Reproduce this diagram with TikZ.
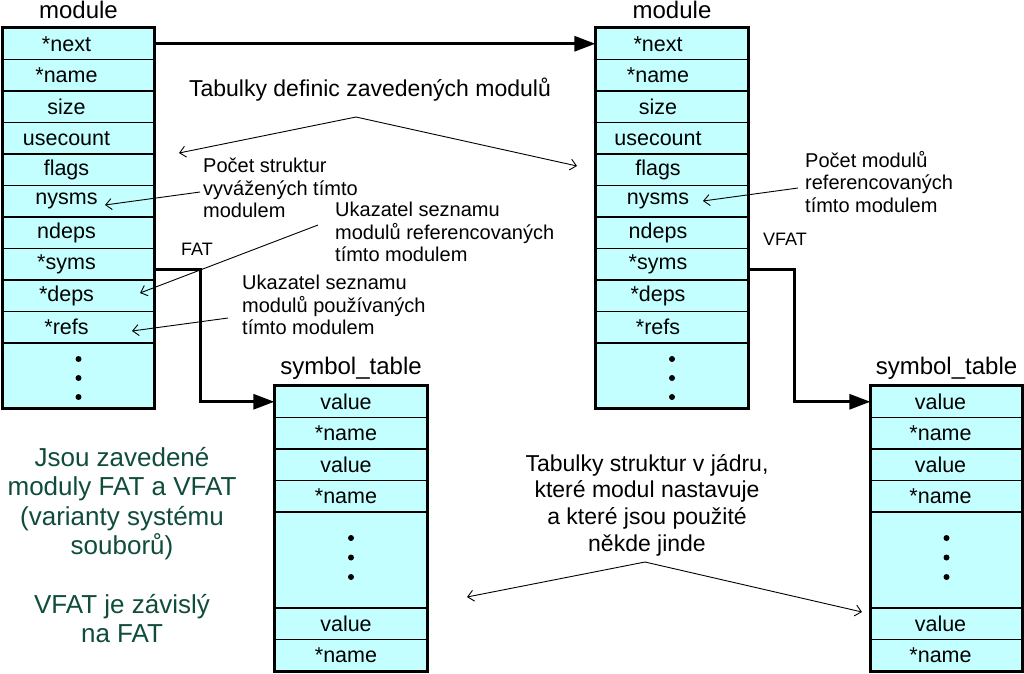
\documentclass[tikz,border=0pt]{standalone}
\usepackage{fontspec}
\setmainfont{Liberation Sans}
\usetikzlibrary{arrows.meta}
\definecolor{cellfill}{RGB}{195,255,255}
\definecolor{greentext}{RGB}{16,76,60}
\begin{document}
\begin{tikzpicture}[x=1pt,y=-1pt,
  cell/.style={draw=black, fill=cellfill, line width=1.3pt, inner sep=0pt, minimum height=31.5pt},
  celltext/.style={font=\fontsize{21.5}{24}\selectfont, inner sep=0pt},
  title/.style={font=\fontsize{24}{26}\selectfont, inner sep=0pt},
  note/.style={font=\fontsize{20}{22.5}\selectfont, align=left, inner sep=0pt},
  tag/.style={font=\fontsize{18}{20}\selectfont, inner sep=0pt},
  border/.style={draw=black, line width=3pt},
  thickarrow/.style={line width=3pt, -{Triangle[length=21pt,width=15pt]}},
  thinarrow/.style={line width=0.9pt, -{Straight Barb[length=6pt,width=11pt]}},
  dot/.style={fill=black}
]
\useasboundingbox (0,0) rectangle (1024,673);

% ---------- module A ----------
\node[title] (modA) at (78.5,10) {module};
\foreach [count=\i] \t in {*next,*name,size,usecount,flags,nysms,ndeps,*syms,*deps,*refs}
  \node[cell, minimum width=151pt, label={[celltext, xshift=-12pt]center:\t}] (mA-\i) at (78.5,{28+31.5*(\i-0.5)}) {};
\node[cell, minimum width=151pt, minimum height=65pt] (mA-11) at (78.5,375.5) {};
\foreach \d in {-19,0,19} \fill[dot] (78.5,{378+\d}) circle (3pt);
\draw[border] (mA-1.north west) rectangle (mA-11.south east);

% ---------- module B ----------
\node[title] (modB) at (672,10) {module};
\foreach [count=\i] \t in {*next,*name,size,usecount,flags,nysms,ndeps,*syms,*deps,*refs}
  \node[cell, minimum width=152pt, label={[celltext, xshift=-14pt]center:\t}] (mB-\i) at (672,{28+31.5*(\i-0.5)}) {};
\node[cell, minimum width=152pt, minimum height=65pt] (mB-11) at (672,375.5) {};
\foreach \d in {-19,0,19} \fill[dot] (672,{378+\d}) circle (3pt);
\draw[border] (mB-1.north west) rectangle (mB-11.south east);

% ---------- symbol tables ----------
\node[title] (symA) at (351,368) {symbol\_table};
\node[title] (symB) at (946.5,368) {symbol\_table};
\foreach \tab/\cx/\w/\off in {sA/351/152/-5, sB/946.5/151/-6} {
  \foreach [count=\i] \t in {value,*name,value,*name}
    \node[cell, minimum width=\w pt, label={[celltext, xshift=\off pt]center:\t}] (\tab-\i) at (\cx,{386+31.5*(\i-0.5)}) {};
  \node[cell, minimum width=\w pt, minimum height=96pt] (\tab-5) at (\cx,560) {};
  \node[cell, minimum width=\w pt, label={[celltext, xshift=\off pt]center:value}] (\tab-6) at (\cx,623.75) {};
  \node[cell, minimum width=\w pt, label={[celltext, xshift=\off pt]center:*name}] (\tab-7) at (\cx,655.25) {};
  \foreach \d in {-19.5,0,19.5} \fill[dot] (\cx,{557.5+\d}) circle (3pt);
  \draw[border] (\tab-1.north west) rectangle (\tab-7.south east);
}

% ---------- thick connectors ----------
\draw[thickarrow] (mA-1.east) -- (mB-1.west);
\draw[thickarrow] ([yshift=-5pt]mA-8.east) -- ++(46,0) |- (sA-1.west);
\draw[thickarrow] ([yshift=-5pt]mB-8.east) -- ++(46,0) |- (sB-1.west);
\node[tag] (fat) at (197,249) {FAT};
\node[tag] (vfat) at (785,239) {VFAT};

% ---------- annotations ----------
\node[title, font=\fontsize{23}{26}\selectfont] (defs) at (370,90) {Tabulky definic zavedených modulů};
\coordinate (apexA) at (356,117);
\coordinate (defL) at (179,153);
\coordinate (defR) at (577,166);
\draw[thinarrow] (apexA) -- (defL);
\draw[thinarrow] (apexA) -- (defR);

\node[note, anchor=west] (pocetA) at (203,188) {Počet struktur\\vyvážených tímto\\modulem};
\coordinate (pA) at (105,205);
\draw[thinarrow] ([shift={(-3pt,-4pt)}]pocetA.west) -- (pA);

\node[note, anchor=west] (ukzA) at (335,232) {Ukazatel seznamu\\modulů referencovaných\\tímto modulem};
\coordinate (uA) at (140,293);
\draw[thinarrow] ([shift={(-17pt,7pt)}]ukzA.west) -- (uA);

\node[note, anchor=west] (ukzB) at (242,305) {Ukazatel seznamu\\modulů používaných\\tímto modulem};
\coordinate (uB) at (132,331);
\draw[thinarrow] ([shift={(-14pt,-13pt)}]ukzB.west) -- (uB);

\node[note, anchor=west] (pocetB) at (805,182) {Počet modulů\\referencovaných\\tímto modulem};
\coordinate (pB) at (703,201);
\draw[thinarrow] ([shift={(-7pt,-6pt)}]pocetB.west) -- (pB);

\node[font=\fontsize{23}{26.7}\selectfont, align=center, inner sep=0pt] (kern) at (647,505)
  {Tabulky struktur v jádru,\\které modul nastavuje\\a které jsou použité\\někde jinde};
\coordinate (apexB) at (645,562);
\coordinate (kerL) at (467,597);
\coordinate (kerR) at (862,612);
\draw[thinarrow] (apexB) -- (kerL);
\draw[thinarrow] (apexB) -- (kerR);

\node[font=\fontsize{26}{29.3}\selectfont, align=center, inner sep=0pt, text=greentext] (green) at (122,545)
  {Jsou zavedené\\moduly FAT a VFAT\\(varianty systému\\souborů)\\[29.3pt]VFAT je závislý\\na FAT};
\end{tikzpicture}
\end{document}
